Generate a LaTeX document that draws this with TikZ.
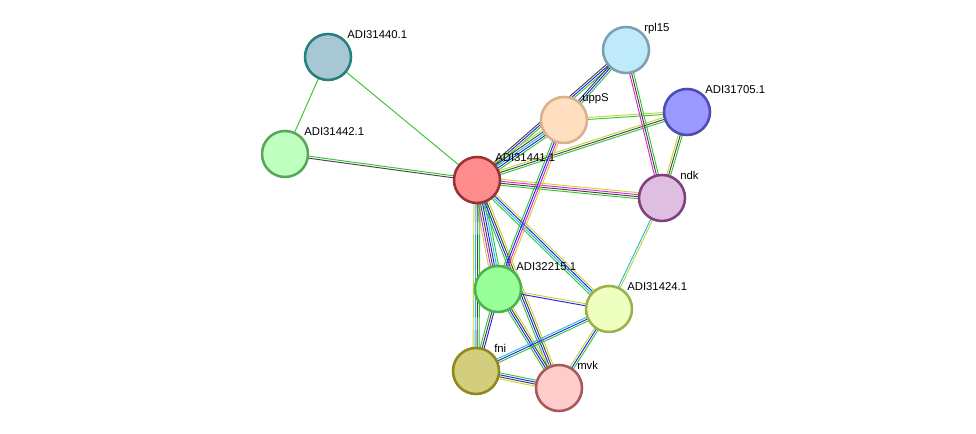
\documentclass[tikz,border=0pt]{standalone}
\usepackage{fontspec}
\setmainfont{Liberation Sans}
\usetikzlibrary{calc}
\definecolor{G}{HTML}{33C433}
\definecolor{B}{HTML}{2222EE}
\definecolor{K}{HTML}{444444}
\definecolor{M}{HTML}{DD22DD}
\definecolor{C}{HTML}{22BBDD}
\definecolor{Y}{HTML}{C4D636}
\newcommand\mE[4]{\foreach \c [count=\i] in {#4}{\pgfmathsetmacro\o{(\i-(#3+1)/2)*1.5}
\draw[\c,line width=0.7pt] ($(#1)!\o pt!90:(#2)$) -- ($(#2)!\o pt!-90:(#1)$);}}
\begin{document}
\begin{tikzpicture}[x=0.75pt,y=-0.75pt,
 nd/.style={circle,minimum size=34.5pt,inner sep=0pt,line width=1.9pt},
 lb/.style={anchor=base west,font=\fontsize{8.5}{10}\selectfont,inner sep=0pt}]
\fill[white] (0,0) rectangle (976,434);
\coordinate (a40) at (328,57);
\coordinate (a42) at (285,154);
\coordinate (a41) at (477,180);
\coordinate (rpl) at (626,50);
\coordinate (upp) at (564,120);
\coordinate (a05) at (687,112);
\coordinate (ndk) at (662,198);
\coordinate (a15) at (498,289);
\coordinate (a24) at (609,309);
\coordinate (fni) at (476,371);
\coordinate (mvk) at (559,388);
\mE{a40}{a42}{1}{G}
\mE{a40}{a41}{1}{G}
\mE{a42}{a41}{2}{K,G}
\mE{a41}{rpl}{3}{G,B,K}
\mE{a41}{upp}{5}{G,B,C,K,Y}
\mE{a41}{a05}{3}{G,K,Y}
\mE{a41}{ndk}{4}{G,K,M,Y}
\mE{a41}{a15}{6}{Y,M,K,B,C,G}
\mE{a41}{a24}{4}{G,C,B,Y}
\mE{a41}{fni}{4}{Y,C,K,G}
\mE{a41}{mvk}{4}{G,B,K,Y}
\mE{upp}{rpl}{3}{G,B,K}
\mE{upp}{a05}{2}{G,Y}
\mE{upp}{a15}{4}{G,B,M,Y}
\mE{rpl}{ndk}{3}{M,K,G}
\mE{a05}{ndk}{3}{Y,K,G}
\mE{ndk}{a24}{2}{C,Y}
\mE{a15}{a24}{2}{B,Y}
\mE{a15}{fni}{3}{G,K,B}
\mE{a15}{mvk}{4}{G,B,K,Y}
\mE{a24}{fni}{3}{C,B,G}
\mE{a24}{mvk}{3}{Y,B,G}
\mE{fni}{mvk}{4}{Y,K,B,G}
\node[nd,fill=cyan!10!teal!40!white,draw=teal!70!gray] (n40) at (a40) {};
\node[nd,fill=green!25!white,draw=green!30!gray] (n42) at (a42) {};
\node[nd,fill=red!45!white,draw=red!50!black!80] (n41) at (a41) {};
\node[nd,fill=cyan!25!white,draw=cyan!30!gray] (nrpl) at (rpl) {};
\node[nd,fill=orange!25!white,draw=brown!60!white] (nupp) at (upp) {};
\node[nd,fill=blue!40!white,draw=blue!40!gray] (n05) at (a05) {};
\node[nd,fill=violet!25!white,draw=violet!50!gray] (nndk) at (ndk) {};
\node[nd,fill=green!40!white,draw=green!40!gray] (n15) at (a15) {};
\node[nd,fill=lime!25!white,draw=lime!40!gray] (n24) at (a24) {};
\node[nd,fill=olive!40!white,draw=olive!80!gray] (nfni) at (fni) {};
\node[nd,fill=red!20!white,draw=red!30!gray] (nmvk) at (mvk) {};
\node[lb] at ($(a40)+(19,-18)$) {ADI31440.1};
\node[lb] at ($(a42)+(19,-18)$) {ADI31442.1};
\node[lb] at ($(a41)+(18,-18)$) {ADI31441.1};
\node[lb] at ($(rpl)+(18,-18)$) {rpl15};
\node[lb] at ($(upp)+(18,-18)$) {uppS};
\node[lb] at ($(a05)+(18,-18)$) {ADI31705.1};
\node[lb] at ($(ndk)+(18,-18)$) {ndk};
\node[lb] at ($(a15)+(18,-18)$) {ADI32215.1};
\node[lb] at ($(a24)+(18,-18)$) {ADI31424.1};
\node[lb] at ($(fni)+(18,-18)$) {fni};
\node[lb] at ($(mvk)+(18,-18)$) {mvk};
\end{tikzpicture}
\end{document}
